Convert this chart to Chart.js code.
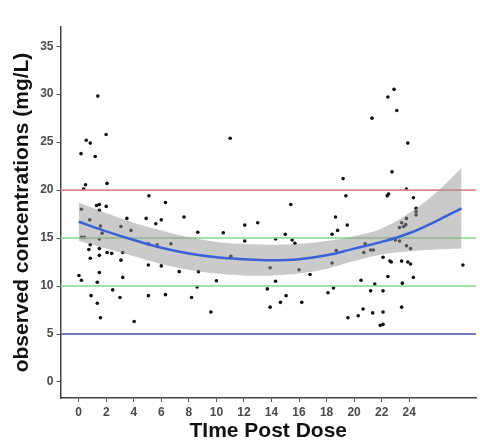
<!DOCTYPE html>
<html lang="en">
<head>
  <meta charset="UTF-8">
  <title>Observed concentrations vs time post dose</title>
  <script src="https://cdn.jsdelivr.net/npm/chart.js"></script>
  <style>
    html, body { margin: 0; padding: 0; background: #fff; }
    #wrap { width: 480px; height: 444px; }
  </style>
</head>
<body>
  <div id="wrap"><canvas id="chart"></canvas></div>

  <script>
    // axis ticks
    const xTicks = [0, 2, 4, 6, 8, 10, 12, 14, 16, 18, 20, 22, 24];
    const yTicks = [0, 5, 10, 15, 20, 25, 30, 35];

    // observed points (time, concentration)
    const obsTime = [
      1.39, 1.99, 0.55, 0.84, 0.17, 1.2, 0.5, 2.06, 0.36, 5.1,
      11.0, 22.9, 22.45, 23.1, 21.3, 23.9, 22.75, 19.2, 23.8, 19.4,
      22.4, 22.5, 24.3, 6.3, 1.3, 1.5, 2.0, 1.5, 0.2, 0.8,
      3.5, 4.9, 6.0, 5.6, 7.65, 8.65, 1.58, 3.07, 3.8, 1.7,
      0.2, 0.4, 1.5, 5.06, 5.7, 6.7, 0.84, 0.74, 1.5, 1.5,
      2.06, 2.4, 3.2, 0.84, 3.07, 5.06, 6.0, 7.3, 1.5, 0.02,
      0.2, 3.2, 1.35, 8.6, 2.47, 0.9, 3.0, 5.06, 6.3, 8.2,
      1.35, 1.58, 4.03, 15.4, 18.65, 12.06, 13.0, 10.5, 15.0, 18.4,
      12.06, 14.3, 15.5, 15.7, 11.05, 18.7, 8.7, 13.9, 16.0, 16.8,
      18.4, 10.0, 14.3, 13.7, 18.5, 18.1, 15.06, 14.65, 16.2, 13.9,
      9.6, 24.5, 24.5, 24.5, 19.5, 23.8, 23.45, 23.75, 23.3, 23.6,
      18.8, 20.8, 22.6, 23.0, 23.3, 20.7, 21.2, 21.4, 23.8, 24.1,
      22.1, 22.6, 22.7, 23.45, 23.9, 24.1, 27.9, 22.45, 24.3, 20.5,
      21.5, 23.5, 21.2, 22.1, 23.45, 20.65, 22.1, 21.35, 19.55, 20.3,
      21.9, 22.1
    ];
    const obsConc = [
      29.8, 25.8, 25.2, 24.9, 23.8, 23.5, 20.55, 20.7, 20.1, 19.4,
      25.4, 30.5, 29.7, 28.3, 27.5, 24.9, 21.9, 21.2, 20.1, 19.4,
      19.4, 19.6, 19.2, 18.7, 18.4, 18.5, 18.3, 17.9, 18.0, 16.9,
      17.05, 17.05, 16.9, 16.5, 17.2, 15.6, 16.25, 16.2, 15.8, 15.5,
      15.07, 15.07, 14.9, 14.4, 14.3, 14.4, 14.3, 13.8, 13.9, 13.2,
      13.5, 13.4, 13.5, 12.9, 12.7, 12.2, 12.1, 11.5, 11.4, 11.1,
      10.6, 10.9, 10.4, 9.9, 9.6, 9.0, 8.8, 9.0, 9.1, 8.8,
      8.2, 6.7, 6.3, 18.5, 17.2, 16.35, 16.6, 15.55, 15.4, 15.4,
      14.7, 14.9, 14.8, 14.45, 13.1, 13.7, 11.5, 11.9, 11.7, 11.2,
      12.4, 10.55, 10.5, 9.7, 9.8, 9.3, 9.0, 8.3, 8.3, 7.8,
      7.3, 18.1, 17.75, 17.4, 16.35, 17.05, 16.6, 16.4, 16.1, 16.2,
      15.8, 14.4, 14.9, 14.8, 14.7, 13.5, 13.75, 13.75, 14.2, 13.9,
      13.0, 12.6, 12.5, 12.6, 12.5, 12.3, 12.2, 11.0, 10.9, 10.6,
      10.2, 10.3, 9.5, 9.5, 7.8, 7.6, 7.3, 7.2, 6.7, 6.9,
      5.9, 6.0
    ];

    // smooth fit with its confidence band
    const fitTime  = [0, 2, 4, 6, 8, 10, 12, 14, 16, 18, 20, 22, 24, 26, 27.8];
    const fitConc  = [16.7, 15.7, 14.8, 14.0, 13.4, 13.0, 12.8, 12.7, 12.8, 13.2, 13.9, 14.6, 15.5, 16.8, 18.1];
    const fitUpper = [18.7, 17.6, 16.6, 15.8, 15.1, 14.6, 14.4, 14.3, 14.4, 14.7, 15.2, 16.0, 17.6, 19.8, 22.3];
    const fitLower = [14.7, 13.9, 13.1, 12.3, 11.7, 11.3, 11.1, 11.1, 11.3, 11.8, 12.6, 13.3, 13.6, 13.8, 13.9];

    // reference levels
    const refLevels = [20, 15, 10, 5];
    const refColors = ['#e0868a', '#86d886', '#86d886', '#4a4ea0'];

    const X_MIN = -1.32, X_MAX = 28.85;
    const Y_MIN = -1.67, Y_MAX = 37.0;

    const pts = obsTime.map((t, i) => ({ x: t, y: obsConc[i] }));
    const toXY = (arr) => fitTime.map((t, i) => ({ x: t, y: arr[i] }));

    const refSets = refLevels.map((lv, i) => ({
      type: 'line',
      data: [{ x: X_MIN, y: lv }, { x: X_MAX, y: lv }],
      borderColor: refColors[i],
      borderWidth: 1.6,
      pointRadius: 0,
      clip: false,
      order: 3
    }));

    const font = 'Liberation Sans, Arial, sans-serif';

    new Chart(document.getElementById('chart'), {
      type: 'scatter',
      data: {
        datasets: [
          {
            data: pts,
            backgroundColor: '#111',
            borderColor: '#111',
            pointRadius: 1.8,
            pointBorderWidth: 0,
            order: 4
          },
          ...refSets,
          {
            type: 'line',
            data: toXY(fitLower),
            borderWidth: 0,
            borderColor: 'rgba(0,0,0,0)',
            pointRadius: 0,
            tension: 0.4,
            fill: false,
            order: 2
          },
          {
            type: 'line',
            data: toXY(fitUpper),
            borderWidth: 0,
            borderColor: 'rgba(0,0,0,0)',
            backgroundColor: 'rgba(150,150,150,0.5)',
            pointRadius: 0,
            tension: 0.4,
            fill: '-1',
            order: 2
          },
          {
            type: 'line',
            data: toXY(fitConc),
            borderColor: '#3a62d8',
            borderWidth: 2.5,
            pointRadius: 0,
            tension: 0.4,
            fill: false,
            order: 1
          }
        ]
      },
      options: {
        responsive: true,
        maintainAspectRatio: false,
        animation: false,
        layout: { padding: { top: 27, right: 0, left: 0, bottom: 0 } },
        plugins: {
          legend: { display: false },
          tooltip: { enabled: false }
        },
        scales: {
          x: {
            type: 'linear',
            min: X_MIN,
            max: X_MAX,
            afterBuildTicks: s => { s.ticks = xTicks.map(v => ({ value: v })); },
            afterFit: s => { s.height = 46; },
            grid: { display: true, drawOnChartArea: false, drawTicks: true, tickLength: 4, color: '#555' },
            border: { display: true, color: '#444', width: 1.5 },
            ticks: { color: '#4a4a4a', padding: 3, font: { family: font, size: 12, weight: 'bold' } },
            title: {
              display: true,
              text: 'TIme Post Dose',
              color: '#111',
              padding: { top: 0, bottom: 0 },
              font: { family: font, size: 21, weight: 'bold', lineHeight: 1.2 }
            }
          },
          y: {
            min: Y_MIN,
            max: Y_MAX,
            afterBuildTicks: s => { s.ticks = yTicks.map(v => ({ value: v })); },
            afterFit: s => { s.width = 60.5; },
            grid: { display: true, drawOnChartArea: false, drawTicks: true, tickLength: 4, color: '#555' },
            border: { display: true, color: '#444', width: 1.5 },
            ticks: { color: '#4a4a4a', padding: 3, font: { family: font, size: 12, weight: 'bold' } },
            title: {
              display: true,
              text: 'observed concentrations (mg/L)',
              color: '#111',
              padding: { top: 10, bottom: 0 },
              font: { family: font, size: 21, weight: 'bold', lineHeight: 1.2 }
            }
          }
        }
      }
    });
  </script>
</body>
</html>
